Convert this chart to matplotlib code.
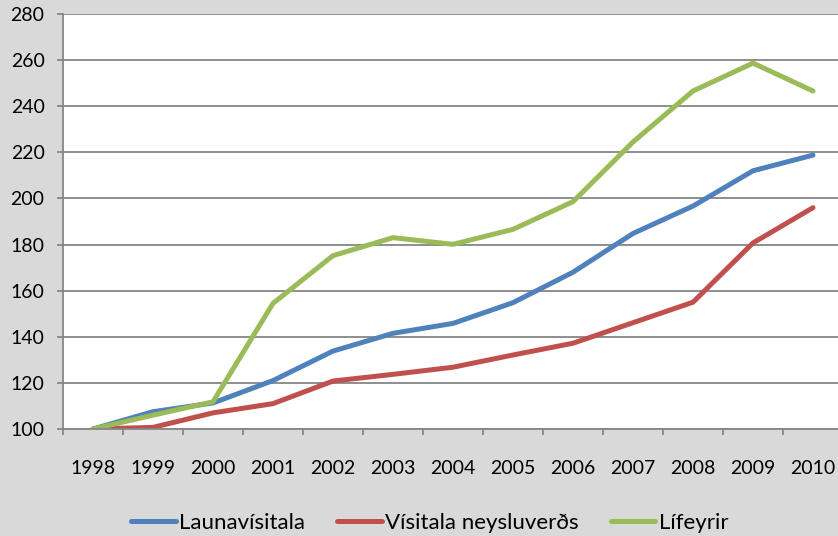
import matplotlib
matplotlib.use("Agg")
import matplotlib.pyplot as plt

years = ["1998", "1999", "2000", "2001", "2002", "2003", "2004",
         "2005", "2006", "2007", "2008", "2009", "2010"]
launavisitala = [100, 107.5, 111.3, 121, 133.8, 141.5, 145.8,
                 154.8, 168, 184.8, 196.7, 212, 218.8]
visitala_neysluverds = [100, 100.7, 107, 111, 120.8, 123.7, 126.8,
                        132.1, 137.2, 146.1, 155, 180.7, 196]
lifeyrir = [100, 106, 111.8, 154.5, 175.2, 183, 180.1,
            186.6, 198.6, 224.5, 246.6, 258.7, 246.6]

plt.rcParams["font.family"] = ["Lato", "DejaVu Sans"]

fig = plt.figure(figsize=(8.38, 5.36), dpi=100)
fig.patch.set_facecolor("#D9D9D9")
ax = fig.add_axes([63 / 838, 107 / 536, 775 / 838, 415 / 536])
ax.set_facecolor("white")

x = range(len(years))
ax.plot(x, launavisitala, color="#4F81BD", lw=3.6, label="Launavísitala",
        solid_capstyle="round")
ax.plot(x, visitala_neysluverds, color="#C0504D", lw=3.6,
        label="Vísitala neysluverðs", solid_capstyle="round")
ax.plot(x, lifeyrir, color="#9BBB59", lw=3.6, label="Lífeyrir",
        solid_capstyle="round")

ax.set_ylim(100, 280)
ax.set_yticks(range(100, 281, 20))
ax.set_xlim(-0.5, 12.5 - 5 / 60)
ax.set_xticks([i - 0.5 for i in range(len(years))])
ax.set_xticklabels([])
ax.set_xticks(list(x), minor=True)
ax.set_xticklabels(years, minor=True)
ax.tick_params(axis="x", which="minor", length=0, pad=22, labelsize=14)
ax.tick_params(axis="x", which="major", length=4.3, width=1.3, color="#868686")
ax.tick_params(axis="y", length=4.3, width=1.3, color="#868686", labelsize=14,
               pad=9)

ax.grid(axis="y", color="#868686", lw=1.3)
ax.set_axisbelow(True)
for side in ["top", "right"]:
    ax.spines[side].set_visible(False)
for side in ["left", "bottom"]:
    ax.spines[side].set_color("#868686")
    ax.spines[side].set_linewidth(1.3)

fig.legend(loc="center", bbox_to_anchor=(0.513, 13 / 536), ncol=3,
           frameon=False, fontsize=16, handlelength=2.0, handletextpad=0.15,
           columnspacing=1.45)

fig.savefig("out.png", dpi=100, facecolor=fig.get_facecolor())
